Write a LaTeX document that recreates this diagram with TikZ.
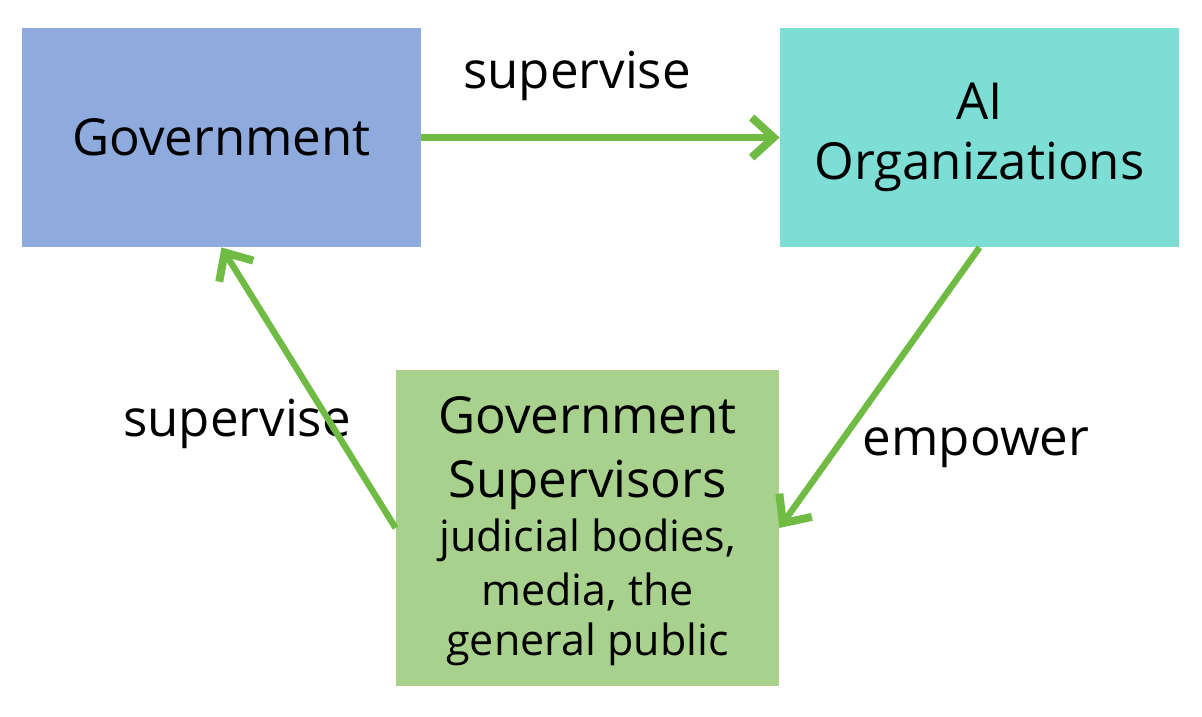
\documentclass[tikz,border=0pt]{standalone}
\usepackage{fontspec}
\setmainfont{Open Sans}
\usetikzlibrary{arrows.meta}

\definecolor{govblue}{RGB}{143,170,220}
\definecolor{orgteal}{RGB}{125,222,214}
\definecolor{supgreen}{RGB}{169,209,142}
\definecolor{arrgreen}{RGB}{112,187,68}

\begin{document}
\begin{tikzpicture}[x=0.5pt,y=-0.5pt,
		box/.style = {minimum width=199.5pt, minimum height=109.5pt, inner sep=0pt, align=center, font=\fontsize{25.5}{28}\selectfont},
		flow/.style = {draw=arrgreen, line width=3.2pt, -{Straight Barb[length=11pt,width=20pt,line width=4pt]}},
		lab/.style = {font=\fontsize{25.5}{28}\selectfont}]
		\useasboundingbox (0,0) rectangle (1202,716);

		\draw (221.5,137.5) node[box, fill=govblue] (gov) {Government};
		\draw (979.5,137.5) node[box, fill=orgteal] (aiorg) {AI\\[2pt]Organizations};
		\draw (587.5,528) node[box, fill=supgreen, minimum width=191.5pt, minimum height=158pt] (supers)
			{\\[-6pt]Government\\[4pt]Supervisors\\[-1pt]{\fontsize{21.5}{26}\selectfont judicial bodies,}\\[-1pt]{\fontsize{21.5}{26}\selectfont media, the}\\[-3pt]{\fontsize{21.5}{26}\selectfont general public}};

		\draw (577,76) node[lab] (lab1) {supervise};
		\draw (976,448) node[lab] (lab2) {empower};
		\draw (237,424) node[lab] (lab3) {supervise};

		\draw [flow] (gov.east) -- (aiorg.west);
		\draw [flow] (aiorg.south) -- (supers.east);
		\draw [flow] (supers.west) -- (gov.south);
	\end{tikzpicture}
\end{document}
